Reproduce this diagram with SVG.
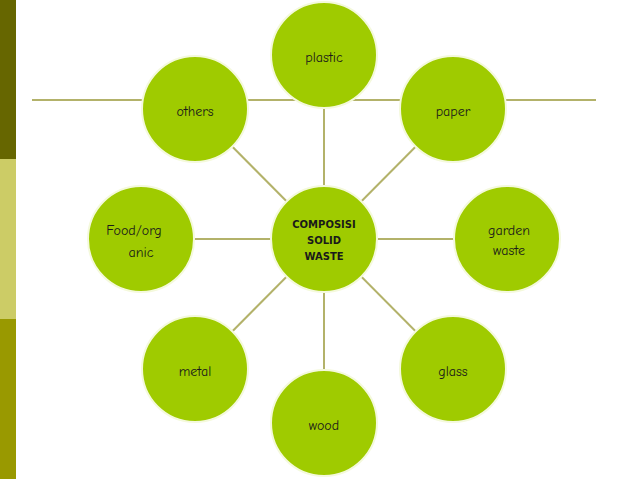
<svg xmlns="http://www.w3.org/2000/svg" width="638" height="479" viewBox="0 0 638 479">
<style>
.n{fill:#9fcb00;stroke:#f4f9dc;stroke-width:2}
.t{font-family:"Comic Neue","DejaVu Sans",sans-serif;font-size:14px;fill:#1a1a1a;text-anchor:middle}
.c{font-family:"DejaVu Sans",sans-serif;font-size:10px;font-weight:bold;fill:#1a1a1a;text-anchor:middle}
#edges line{stroke:#b3b26a;stroke-width:2}
</style>
<rect width="638" height="479" fill="#fff"/>
<rect x="0" y="0" width="16" height="159" fill="#666600"/>
<rect x="0" y="159" width="16" height="160" fill="#cccc66"/>
<rect x="0" y="319" width="16" height="160" fill="#999900"/>
<g id="edges">
<line x1="32" y1="100" x2="596" y2="100"/>
<line x1="324" y1="239" x2="324" y2="55"/>
<line x1="324" y1="239" x2="195" y2="109"/>
<line x1="324" y1="239" x2="453" y2="109"/>
<line x1="324" y1="239" x2="141" y2="239"/>
<line x1="324" y1="239" x2="507" y2="239"/>
<line x1="324" y1="239" x2="195" y2="369"/>
<line x1="324" y1="239" x2="453" y2="369"/>
<line x1="324" y1="239" x2="324" y2="423"/>
</g>
<g id="plastic"><circle class="n" cx="324" cy="55" r="53"/><text class="t" x="324" y="62">plastic</text></g>
<g id="others"><circle class="n" cx="195" cy="109" r="53"/><text class="t" x="195" y="116">others</text></g>
<g id="paper"><circle class="n" cx="453" cy="109" r="53"/><text class="t" x="453" y="116">paper</text></g>
<g id="food"><circle class="n" cx="141" cy="239" r="53"/><text class="t" x="134" y="235">Food/org</text><text class="t" x="141" y="257">anic</text></g>
<g id="garden"><circle class="n" cx="507" cy="239" r="53"/><text class="t" x="509" y="235">garden</text><text class="t" x="509" y="255">waste</text></g>
<g id="center"><circle class="n" cx="324" cy="239" r="53"/><text class="c" x="324" y="228">COMPOSISI</text><text class="c" x="324" y="244">SOLID</text><text class="c" x="324" y="260">WASTE</text></g>
<g id="metal"><circle class="n" cx="195" cy="369" r="53"/><text class="t" x="195" y="376">metal</text></g>
<g id="glass"><circle class="n" cx="453" cy="369" r="53"/><text class="t" x="453" y="376">glass</text></g>
<g id="wood"><circle class="n" cx="324" cy="423" r="53"/><text class="t" x="324" y="430">wood</text></g>
</svg>
